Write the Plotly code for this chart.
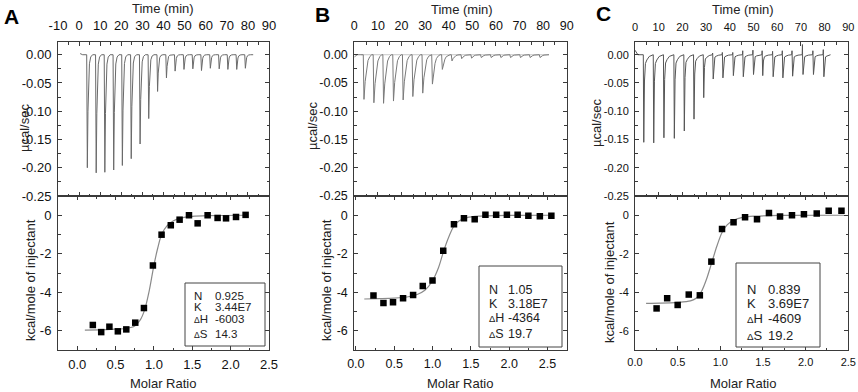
import plotly.graph_objects as go

W, H = 858, 392

# ---------------- DATA ----------------
# Panel A raw thermogram: injection times (min) and peak minima (µcal/sec)
a_inj_t = [3.6, 7.8, 11.9, 16.1, 20.2, 24.4, 28.6, 32.7, 36.9, 41.1, 45.2, 49.4, 53.6, 57.7, 61.9, 66.1, 70.2, 74.4, 78.5]
a_peak = [-0.200, -0.209, -0.208, -0.204, -0.196, -0.184, -0.158, -0.113, -0.065, -0.041,
          -0.029, -0.026, -0.025, -0.028, -0.024, -0.025, -0.026, -0.026, -0.024]
a_trace_span = [0.5, 82.5]

# Panel A integrated heats
a_ratio = [0.204, 0.313, 0.42, 0.53, 0.64, 0.757, 0.87, 0.987, 1.10, 1.22, 1.335, 1.457, 1.57, 1.70, 1.83, 1.94, 2.07, 2.195]
a_heat = [-5.70, -6.07, -5.79, -6.03, -5.93, -5.58, -4.82, -2.61, -1.01, -0.52, -0.23, 0.0, -0.42, 0.0, -0.14, -0.16, -0.09, 0.02]
a_fit_x = [0.10, 0.30, 0.50, 0.65, 0.75, 0.82, 0.88, 0.94, 1.00, 1.05, 1.10, 1.17, 1.25, 1.35, 1.50, 1.70, 2.20]
a_fit_y = [-5.97, -5.95, -5.92, -5.87, -5.75, -5.45, -4.90, -3.90, -2.60, -1.70, -1.00, -0.55, -0.30, -0.15, -0.06, -0.02, 0.0]
a_params = [("N", "0.925"), ("K", "3.44E7"), ("\u0394H", "-6003"), ("\u0394S", "14.3")]

# Panel B
b_inj_t = [3.8, 8.0, 12.1, 16.3, 20.4, 24.5, 28.7, 32.8, 37.0, 41.1, 45.2, 49.4, 53.5, 57.7, 61.8, 65.9, 70.1, 74.2, 78.4]
b_peak = [-0.079, -0.085, -0.086, -0.082, -0.080, -0.074, -0.068, -0.052, -0.026, -0.011,
          -0.007, -0.006, -0.005, -0.005, -0.005, -0.005, -0.005, -0.005, -0.005]
b_trace_span = [0.0, 82.5]
b_ratio = [0.23, 0.36, 0.485, 0.616, 0.747, 0.873, 1.0, 1.14, 1.28, 1.41, 1.55, 1.69, 1.83, 1.97, 2.11, 2.25, 2.40, 2.55]
b_heat = [-4.17, -4.56, -4.52, -4.31, -4.14, -3.67, -3.39, -1.84, -0.47, -0.16, -0.21, 0.02, 0.03, 0.02, 0.02, -0.02, -0.05, -0.02]
b_fit_x = [0.11, 0.30, 0.50, 0.70, 0.80, 0.90, 1.00, 1.08, 1.15, 1.22, 1.28, 1.35, 1.45, 1.60, 2.00, 2.55]
b_fit_y = [-4.35, -4.33, -4.30, -4.22, -4.12, -3.90, -3.40, -2.70, -1.80, -1.05, -0.55, -0.28, -0.12, -0.05, -0.01, 0.0]
b_params = [("N", "1.05"), ("K", "3.18E7"), ("\u0394H", "-4364"), ("\u0394S", "19.7")]

# Panel C
c_inj_t = [3.5, 7.7, 12.0, 16.4, 20.6, 24.7, 28.8, 32.8, 36.9, 41.3, 45.5, 49.8, 53.7, 58.1, 62.2, 66.3, 70.7, 75.1, 79.5]
c_peak = [-0.155, -0.156, -0.147, -0.148, -0.135, -0.114, -0.076, -0.043, -0.041, -0.037,
          -0.039, -0.035, -0.037, -0.039, -0.041, -0.038, -0.035, -0.035, -0.039]
c_up = [0.0, 0.0, 0.0, 0.0, 0.0, 0.0, 0.0, 0.003, 0.004, 0.004, 0.007, 0.008, 0.007, 0.006, 0.007, 0.007, 0.018, 0.007, 0.009]
c_trace_span = [0.0, 82.5]
c_ratio = [0.253, 0.377, 0.50, 0.63, 0.76, 0.895, 1.02, 1.155, 1.29, 1.43, 1.57, 1.70, 1.84, 1.98, 2.13, 2.27, 2.42]
c_heat = [-4.84, -4.31, -4.66, -4.12, -4.16, -2.41, -0.72, -0.36, -0.10, -0.21, 0.12, -0.07, 0.0, 0.05, 0.09, 0.24, 0.24]
c_fit_x = [0.13, 0.30, 0.50, 0.65, 0.72, 0.78, 0.84, 0.90, 0.96, 1.02, 1.08, 1.15, 1.25, 1.40, 1.70, 2.45]
c_fit_y = [-4.58, -4.57, -4.53, -4.45, -4.30, -3.95, -3.30, -2.45, -1.60, -0.90, -0.50, -0.27, -0.12, -0.05, -0.01, 0.0]
c_params = [("N", "0.839"), ("K", "3.69E7"), ("\u0394H", "-4609"), ("\u0394S", "19.2")]

# Tick labels
time_ticks_a = [-10, 0, 10, 20, 30, 40, 50, 60, 70, 80, 90]
time_ticks_bc = [0, 10, 20, 30, 40, 50, 60, 70, 80, 90]
ucal_ticks = [0.0, -0.05, -0.10, -0.15, -0.20, -0.25]
ucal_text = ["0.00", "-0.05", "-0.10", "-0.15", "-0.20", "-0.25"]
kcal_ticks = [0, -2, -4, -6]
kcal_text = ["0", "-2", "-4", "-6"]
ratio_ticks = [0.0, 0.5, 1.0, 1.5, 2.0, 2.5]
ratio_text = ["0.0", "0.5", "1.0", "1.5", "2.0", "2.5"]

# ---------------- STYLE / HELPERS ----------------
FONT = "Liberation Sans, Arial, sans-serif"
AXC = "#3a3a3a"


def px(x):
    return x / W


def py(y):
    return 1 - y / H


def thermogram(times, depths, span, prof_dt, prof_f, ups=None, start_level=0.0):
    xs, ys = [span[0], span[0] + 1.2], [start_level, 0.0]
    for i, (t, d) in enumerate(zip(times, depths)):
        if ups is not None and ups[i] > 0:
            xs += [t - 0.15, t - 0.05]
            ys += [0.0, ups[i]]
        for dt, f in zip(prof_dt, prof_f):
            xs.append(t + dt)
            ys.append(f * d)
    xs.append(span[1])
    ys.append(0.0)
    return xs, ys


def delta(label, size):
    # small Greek capital delta as in the reference
    if label.startswith("\u0394"):
        return f"<span style='font-size:{size * 0.75:.1f}px'>\u0394</span>{label[1:]}"
    return label


fig = go.Figure()

panels = [
    dict(key="A", xl=58, xr=269, trange=[-10, 90], rrange=[-0.25, 2.5], tt=time_ticks_a,
         inj=a_inj_t, peak=a_peak, span=a_trace_span, ups=None, start=0.002,
         pdt=[0, 0.3, 0.6, 0.9, 1.3, 1.9, 2.8], pf=[0, 1, 0.5, 0.22, 0.08, 0.02, 0],
         r=a_ratio, h=a_heat, fx=a_fit_x, fy=a_fit_y, params=a_params, tcol="#6a6a6a",
         fs=13, letter=(11, 16), ttl_time=(163, 8), ttl_ratio=(163, 383),
         ttl_ucal=(25, 128), ttl_kcal=(30, 280),
         box=(185, 283, 265, 346), lab_x=192, val_x=213, rows=[296, 307, 319, 334], pfs=11.5),
    dict(key="B", xl=354.3, xr=566.7, trange=[0, 90], rrange=[-0.02, 2.75], tt=time_ticks_bc,
         inj=b_inj_t, peak=b_peak, span=b_trace_span, ups=None, start=-0.004,
         pdt=[0, 0.3, 0.8, 1.4, 2.0, 2.8, 3.6], pf=[0, 1, 0.6, 0.3, 0.13, 0.04, 0],
         r=b_ratio, h=b_heat, fx=b_fit_x, fy=b_fit_y, params=b_params, tcol="#7a7a7a",
         fs=12.5, letter=(322, 15), ttl_time=(462, 10), ttl_ratio=(460, 383),
         ttl_ucal=(313, 126), ttl_kcal=(326, 280),
         box=(479, 266, 562, 347), lab_x=487, val_x=506, rows=[290, 303.5, 318, 333.5], pfs=12.5),
    dict(key="C", xl=635, xr=848.3, trange=[0, 90], rrange=[0, 2.5], tt=time_ticks_bc,
         inj=c_inj_t, peak=c_peak, span=c_trace_span, ups=c_up, start=0.008,
         pdt=[0, 0.2, 0.5, 0.9, 1.5, 2.5], pf=[0, 1, 0.3, 0.1, 0.06, 0.02],
         r=c_ratio, h=c_heat, fx=c_fit_x, fy=c_fit_y, params=c_params, tcol="#555555",
         fs=11, letter=(603, 14), ttl_time=(743, 10), ttl_ratio=(743, 383),
         ttl_ucal=(597, 123), ttl_kcal=(609, 282),
         box=(736, 263, 820, 347), lab_x=745, val_x=766, rows=[289, 303.5, 318, 335.5], pfs=13),
]

annotations = []
shapes = []
layout_axes = {}

TOP_T, MID, BOT = 42, 196, 350

for i, p in enumerate(panels):
    n_top = 2 * i + 1
    n_bot = 2 * i + 2
    xa_top = "x" if n_top == 1 else f"x{n_top}"
    ya_top = "y" if n_top == 1 else f"y{n_top}"
    xa_bot = f"x{n_bot}"
    ya_bot = f"y{n_bot}"
    dom_x = [px(p["xl"]), px(p["xr"])]
    tick_font = dict(family=FONT, size=p["fs"], color="#111")

    common = dict(showline=True, linecolor=AXC, linewidth=1, mirror="ticks", ticks="inside",
                  tickcolor=AXC, ticklen=4, tickwidth=1, showgrid=False, zeroline=False,
                  tickfont=tick_font, automargin=False)

    # top panel axes
    layout_axes["xaxis" if n_top == 1 else f"xaxis{n_top}"] = dict(
        common, domain=dom_x, range=p["trange"], side="top", anchor=ya_top,
        tickvals=p["tt"], ticktext=[str(v) for v in p["tt"]], ticklabelstandoff=6,
        minor=dict(ticks="inside", ticklen=2.5, tickcolor=AXC, dtick=5, tick0=0))
    layout_axes["yaxis" if n_top == 1 else f"yaxis{n_top}"] = dict(
        common, domain=[py(MID), py(TOP_T)], range=[-0.25, 0.0225], anchor=xa_top,
        tickvals=ucal_ticks, ticktext=ucal_text, ticklabelstandoff=3,
        minor=dict(ticks="inside", ticklen=2.5, tickcolor=AXC, dtick=0.025, tick0=0))
    # bottom panel axes
    layout_axes[f"xaxis{n_bot}"] = dict(
        common, domain=dom_x, range=p["rrange"], side="bottom", anchor=ya_bot,
        tickvals=ratio_ticks, ticktext=ratio_text, ticklabelstandoff=2,
        minor=dict(ticks="inside", ticklen=2.5, tickcolor=AXC, dtick=0.25, tick0=0))
    layout_axes[f"yaxis{n_bot}"] = dict(
        common, domain=[py(BOT), py(MID)], range=[-7, 1], anchor=xa_bot,
        tickvals=kcal_ticks, ticktext=kcal_text, ticklabelstandoff=3,
        minor=dict(ticks="inside", ticklen=2.5, tickcolor=AXC, dtick=1, tick0=0))

    # thermogram
    tx, ty = thermogram(p["inj"], p["peak"], p["span"], p["pdt"], p["pf"], p["ups"], p["start"])
    if p["key"] == "B":
        fig.add_trace(go.Scatter(x=[p["inj"][0] - 1, p["span"][1]], y=[0, 0], mode="lines",
                                 line=dict(color="#c8c8c8", width=1), xaxis=xa_top, yaxis=ya_top,
                                 showlegend=False, hoverinfo="skip"))
    fig.add_trace(go.Scatter(x=tx, y=ty, mode="lines", line=dict(color=p["tcol"], width=1),
                             xaxis=xa_top, yaxis=ya_top, showlegend=False))
    # fit
    fig.add_trace(go.Scatter(x=p["fx"], y=p["fy"], mode="lines",
                             line=dict(color="#8a8a8a", width=1.2, shape="spline", smoothing=0.8),
                             xaxis=xa_bot, yaxis=ya_bot, showlegend=False))
    # points
    fig.add_trace(go.Scatter(x=p["r"], y=p["h"], mode="markers",
                             marker=dict(symbol="square", size=6.5, color="#000"),
                             xaxis=xa_bot, yaxis=ya_bot, showlegend=False))

    def ann(x, y, text, size, angle=0, color="#222", xanchor="center"):
        annotations.append(dict(x=px(x), y=py(y), xref="paper", yref="paper", text=text,
                                showarrow=False, textangle=angle, xanchor=xanchor, yanchor="middle",
                                font=dict(family=FONT, size=size, color=color)))

    ann(p["letter"][0], p["letter"][1], f"<b>{p['key']}</b>", 21, color="#000")
    ann(p["ttl_time"][0], p["ttl_time"][1], "Time (min)", 13)
    ann(p["ttl_ratio"][0], p["ttl_ratio"][1], "Molar Ratio", 13)
    ann(p["ttl_ucal"][0], p["ttl_ucal"][1], "\u00b5cal/sec", 13, angle=-90)
    ann(p["ttl_kcal"][0], p["ttl_kcal"][1], "kcal/mole of injectant", 13, angle=-90)

    bx0, by0, bx1, by1 = p["box"]
    shapes.append(dict(type="rect", xref="paper", yref="paper", x0=px(bx0), x1=px(bx1),
                       y0=py(by1), y1=py(by0), line=dict(color="#444", width=1), fillcolor="white",
                       layer="above"))
    for (lab, val), ry in zip(p["params"], p["rows"]):
        ann(p["lab_x"], ry, delta(lab, p["pfs"]), p["pfs"], xanchor="left")
        ann(p["val_x"], ry, val, p["pfs"], xanchor="left")

fig.update_layout(
    width=W, height=H, autosize=False,
    margin=dict(l=0, r=0, t=0, b=0, pad=0),
    paper_bgcolor="white", plot_bgcolor="white",
    showlegend=False, hovermode=False,
    annotations=annotations, shapes=shapes,
    font=dict(family=FONT),
    **layout_axes,
)

# remove the default page margin so the figure sits at the window's top-left corner
fig.write_html("out.html", config=dict(displayModeBar=False, staticPlot=True),
               post_script="document.body.style.margin='0';document.body.style.overflow='hidden';")
